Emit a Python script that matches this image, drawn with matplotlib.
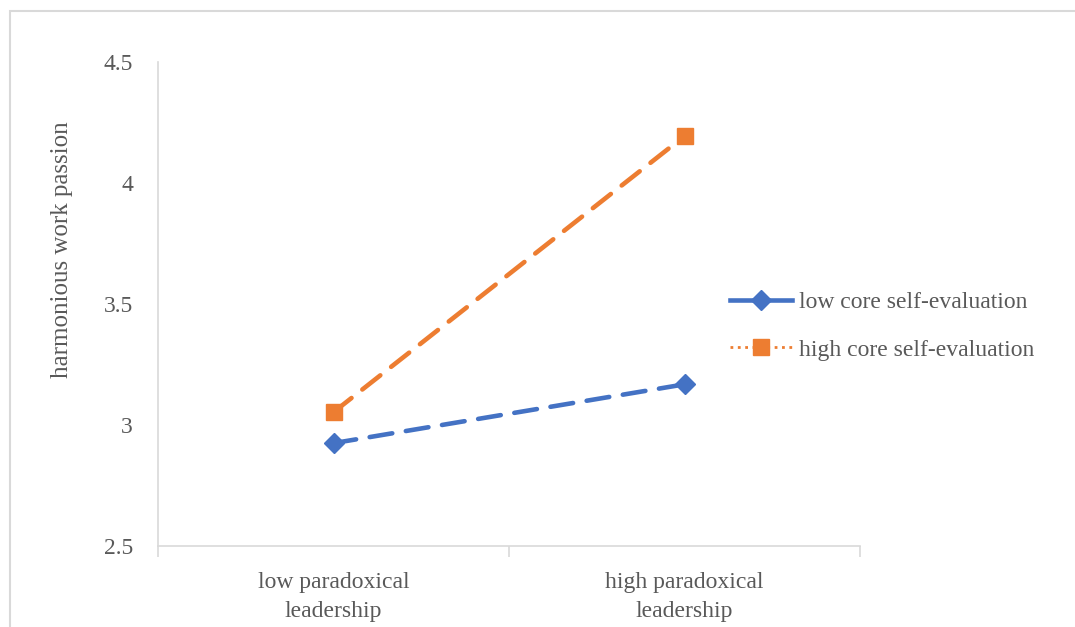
import numpy as np
import matplotlib.pyplot as plt
from matplotlib.lines import Line2D
from matplotlib.patches import Rectangle

# data
categories = ['low paradoxical\nleadership', 'high paradoxical\nleadership']
low_cse = [2.925, 3.168]
high_cse = [3.053, 4.194]
series_names = ['low core self-evaluation', 'high core self-evaluation']

blue = '#4472C4'
orange = '#ED7D31'
grey = '#595959'

plt.rcParams['font.family'] = ['Liberation Serif', 'DejaVu Serif']

fig = plt.figure(figsize=(10.75, 6.27), dpi=100)
ax = fig.add_axes([158/1075, 1-546/627, (860-158)/1075, (546-62)/627])

x = np.arange(len(categories)) + 0.5
ax.plot(x, low_cse, color=blue, lw=3.3, ls=(0, (5, 3)), marker='D', ms=10,
        dash_capstyle='round')
ax.plot(x, high_cse, color=orange, lw=3.3, ls=(0, (5, 3)), marker='s', ms=12,
        dash_capstyle='round')

ax.set_xlim(0, 2)
ax.set_ylim(2.5, 4.5)
ax.set_yticks([2.5, 3, 3.5, 4, 4.5])
ax.set_yticklabels(['2.5', '3', '3.5', '4', '4.5'])
ax.set_xticks(x)
ax.set_xticklabels(categories, linespacing=1.5)
ax.set_xticks([0, 1, 2], minor=True)
ax.tick_params(axis='x', which='major', length=0, pad=19, labelsize=17, labelcolor=grey)
ax.tick_params(axis='x', which='minor', length=8, color='#d9d9d9', width=1.2)
ax.tick_params(axis='y', length=0, pad=18, labelsize=17, labelcolor=grey)

for s in ['top', 'right']:
    ax.spines[s].set_visible(False)
for s in ['left', 'bottom']:
    ax.spines[s].set_color('#d9d9d9')
    ax.spines[s].set_linewidth(1.2)

fig.text(62/1075, 1-250/627, 'harmonious work passion', rotation=90,
         ha='center', va='center', fontsize=18, color=grey)

handles = [
    Line2D([], [], color=blue, lw=3.3, ls='-', marker='D', ms=10),
    Line2D([], [], color=orange, lw=2, ls=':', marker='s', ms=11),
]
fig.legend(handles, series_names, loc='center left',
           bbox_to_anchor=(709/1075, 1-326/627), frameon=False,
           fontsize=17, labelcolor=grey, handlelength=2.6, handletextpad=0.3,
           labelspacing=1.1)

# outer chart border
fig.patches.append(Rectangle((10/1075, -0.1), 1.2, 1 - 11/627 + 0.1,
                             transform=fig.transFigure, fill=False,
                             edgecolor='#d9d9d9', lw=1.5))

fig.savefig('out.png', dpi=100)
